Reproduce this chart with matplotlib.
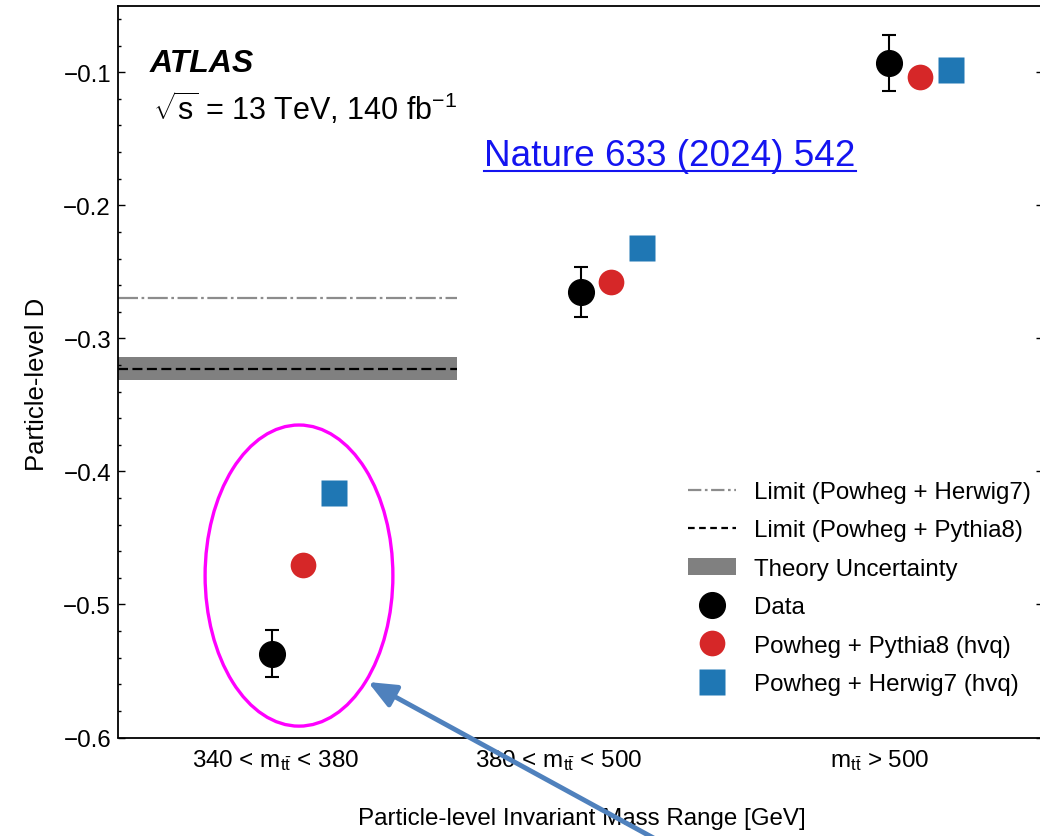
import matplotlib
matplotlib.use("Agg")
import matplotlib.pyplot as plt
from matplotlib.patches import Ellipse, FancyArrowPatch, Patch
from matplotlib.lines import Line2D
from matplotlib.ticker import MultipleLocator

plt.rcParams["font.family"] = ["Liberation Sans", "DejaVu Sans"]
plt.rcParams["mathtext.fontset"] = "custom"
plt.rcParams["mathtext.rm"] = "Liberation Sans"
plt.rcParams["mathtext.it"] = "Liberation Sans:italic"
plt.rcParams["mathtext.bf"] = "Liberation Sans:bold"

# Invariant-mass bins
bin_labels = [r"340 < $\mathrm{m_{t\bar{t}}}$ < 380",
              r"380 < $\mathrm{m_{t\bar{t}}}$ < 500",
              r"$\mathrm{m_{t\bar{t}}}$ > 500"]

# Particle-level D per bin
data_D = [-0.537, -0.265, -0.093]
data_err = [0.0177, 0.0188, 0.021]
pythia8_D = [-0.470, -0.258, -0.1035]
herwig7_D = [-0.416, -0.232, -0.0983]

# Entanglement limits (first bin only)
limit_herwig7 = -0.270
limit_pythia8 = -0.3227
theory_unc = 0.0084

W, H = 1040, 837
fig = plt.figure(figsize=(W / 100, H / 100), dpi=100)
ax = fig.add_axes([118 / W, 1 - 738.5 / H, (1043 - 118) / W, (738.5 - 6.7) / H])

xs = range(len(bin_labels))
FS = 17.4

# limit band and lines across the first bin
band_x = [-0.5, 0.6]
ax.fill_between(band_x, limit_pythia8 - theory_unc, limit_pythia8 + theory_unc,
                color="#808080", lw=0, zorder=1)
ax.plot(band_x, [limit_pythia8] * 2, color="black", lw=1.6,
        dashes=(4.5, 2.0), zorder=2)
ax.plot(band_x, [limit_herwig7] * 2, color="#8c8c8c", lw=1.6,
        dashes=(9.0, 1.6, 1.2, 1.6), zorder=2)

# predictions and data
ax.plot([x + 0.1 for x in xs], pythia8_D, "o", color="#d62728", ms=18.5,
        mec="none", zorder=3)
ax.plot([x + 0.2 for x in xs], herwig7_D, "s", color="#1f77b4", ms=18.5,
        mec="none", zorder=3)
ax.errorbar(list(xs), data_D, yerr=data_err, fmt="o", color="black",
            ms=18.5, elinewidth=1.5, capsize=5, capthick=1.5, zorder=4)

ax.set_xlim(-0.5, 2.5)
ax.set_ylim(-0.6, -0.05)
ax.yaxis.set_major_locator(MultipleLocator(0.1))
ax.yaxis.set_minor_locator(MultipleLocator(0.02))
ax.tick_params(axis="y", which="both", direction="in", left=True, right=True,
               labelsize=FS, pad=5, width=1.0)
ax.tick_params(axis="y", which="major", length=5)
ax.tick_params(axis="y", which="minor", length=2.5)
ax.set_xticks([0.01, 0.93, 1.97])
ax.set_xticklabels(bin_labels)
ax.tick_params(axis="x", length=0, labelsize=FS, pad=7)
for s in ax.spines.values():
    s.set_linewidth(1.3)

ax.set_ylabel("Particle-level D", fontsize=18.5)
ax.yaxis.set_label_coords(-0.075, 0.484)
ax.set_xlabel("Particle-level Invariant Mass Range [GeV]", fontsize=FS)
ax.xaxis.set_label_coords(0.501, -0.095)

# legend
handles = [
    Line2D([], [], color="#8c8c8c", lw=1.6, dashes=(6.0, 1.6, 1.2, 1.6)),
    Line2D([], [], color="black", lw=1.6, dashes=(3.0, 2.0)),
    Patch(facecolor="#808080", edgecolor="none"),
    Line2D([], [], marker="o", ls="none", color="black", ms=18.5),
    Line2D([], [], marker="o", ls="none", color="#d62728", ms=18.5, mec="none"),
    Line2D([], [], marker="s", ls="none", color="#1f77b4", ms=18.5, mec="none"),
]
labels = ["Limit (Powheg + Herwig7)", "Limit (Powheg + Pythia8)",
          "Theory Uncertainty", "Data", "Powheg + Pythia8 (hvq)",
          "Powheg + Herwig7 (hvq)"]
fig.legend(handles, labels, loc="upper left", frameon=False, fontsize=FS,
           bbox_to_anchor=(688 / W, 1 - 482 / H), handlelength=2.0,
           handletextpad=0.75, labelspacing=0.68, borderpad=0.0,
           borderaxespad=0.0)

# experiment label
fig.text(150 / W, 1 - 72 / H, "ATLAS", fontsize=23, fontweight="bold",
         fontstyle="italic", va="baseline")
fig.text(153 / W, 1 - 120 / H, r"$\sqrt{\mathrm{s}}$ = 13 TeV, 140 fb$^{\mathrm{-1}}$",
         fontsize=22, va="baseline")

ref = fig.text(670 / W, 1 - 166 / H, "Nature 633 (2024) 542", fontsize=26.6,
               color="#1414f0", ha="center", va="baseline")
fig.canvas.draw()
bb = ref.get_window_extent()
fig.add_artist(Line2D([bb.x0 / W, bb.x1 / W], [(H - 172) / H] * 2,
                      color="#1414f0", lw=1.5, transform=fig.transFigure))

# highlight of the lowest-mass bin
ax.add_patch(Ellipse((0.087, -0.4783), 0.609, 0.2263, fill=False,
                     edgecolor="#ff00ff", lw=2.4, zorder=5))
arrow = FancyArrowPatch((692 / W, -23 / H), (368 / W, (H - 683) / H),
                        transform=fig.transFigure, color="#4f81bd", lw=3.5,
                        arrowstyle="-|>,head_length=1.4,head_width=0.6",
                        mutation_scale=12, shrinkA=0, shrinkB=0, zorder=10)
fig.add_artist(arrow)

fig.savefig("out.png", dpi=100)
